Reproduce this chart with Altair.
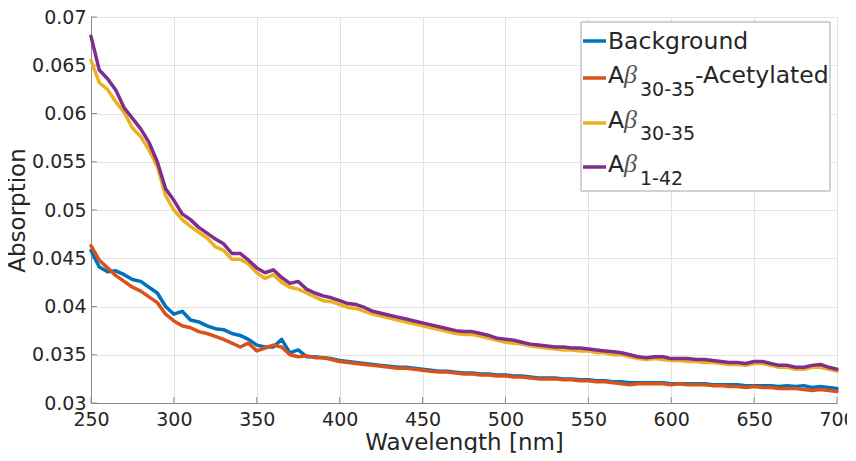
import altair as alt
import pandas as pd

wavelength = list(range(250, 701, 5))

background = [0.0458, 0.0441, 0.0436, 0.0437, 0.0433, 0.0428, 0.0426, 0.0420, 0.0414, 0.0400,
              0.0392, 0.0395, 0.0386, 0.0384, 0.0380, 0.0377, 0.0376, 0.0372, 0.0370, 0.0366,
              0.0360, 0.0358, 0.0358, 0.0366, 0.0352, 0.0355, 0.0348, 0.0348, 0.0347, 0.0346,
              0.0344, 0.0343, 0.0342, 0.0341, 0.0340, 0.0339, 0.0338, 0.0337, 0.0337, 0.0336,
              0.0335, 0.0334, 0.0333, 0.0333, 0.0332, 0.0331, 0.0331, 0.0330, 0.0330, 0.0329,
              0.0329, 0.0328, 0.0328, 0.0327, 0.0326, 0.0326, 0.0326, 0.0325, 0.0325, 0.0324,
              0.0324, 0.0323, 0.0323, 0.0322, 0.0322, 0.0321, 0.0321, 0.0321, 0.0321, 0.0321,
              0.0320, 0.0320, 0.0320, 0.0320, 0.0320, 0.0319, 0.0319, 0.0319, 0.0319, 0.0318,
              0.0318, 0.0318, 0.0318, 0.0317, 0.0318, 0.0317, 0.0318, 0.0316, 0.0317, 0.0316,
              0.0315]

acetylated = [0.0463, 0.0448, 0.0440, 0.0432, 0.0426, 0.0420, 0.0416, 0.0410, 0.0404, 0.0392,
              0.0385, 0.0380, 0.0378, 0.0374, 0.0372, 0.0369, 0.0366, 0.0362, 0.0358, 0.0362,
              0.0354, 0.0357, 0.0360, 0.0358, 0.0350, 0.0348, 0.0349, 0.0347, 0.0347, 0.0345,
              0.0343, 0.0342, 0.0341, 0.0340, 0.0339, 0.0338, 0.0337, 0.0336, 0.0336, 0.0335,
              0.0334, 0.0333, 0.0332, 0.0332, 0.0331, 0.0330, 0.0330, 0.0329, 0.0329, 0.0328,
              0.0328, 0.0327, 0.0327, 0.0326, 0.0325, 0.0325, 0.0325, 0.0324, 0.0324, 0.0323,
              0.0323, 0.0322, 0.0322, 0.0321, 0.0320, 0.0319, 0.0320, 0.0320, 0.0320, 0.0320,
              0.0319, 0.0320, 0.0319, 0.0319, 0.0319, 0.0318, 0.0318, 0.0317, 0.0317, 0.0316,
              0.0317, 0.0316, 0.0316, 0.0315, 0.0315, 0.0315, 0.0314, 0.0313, 0.0314, 0.0313,
              0.0312]

ab_30_35 = [0.0655, 0.0632, 0.0625, 0.0612, 0.0601, 0.0585, 0.0576, 0.0562, 0.0545, 0.0515,
            0.0500, 0.0490, 0.0483, 0.0477, 0.0471, 0.0462, 0.0458, 0.0449, 0.0449, 0.0444,
            0.0435, 0.0429, 0.0433, 0.0425, 0.0420, 0.0418, 0.0414, 0.0410, 0.0406, 0.0405,
            0.0402, 0.0399, 0.0398, 0.0395, 0.0392, 0.0390, 0.0388, 0.0386, 0.0384, 0.0382,
            0.0380, 0.0378, 0.0376, 0.0374, 0.0372, 0.0371, 0.0371, 0.0369, 0.0367, 0.0365,
            0.0363, 0.0362, 0.0361, 0.0359, 0.0358, 0.0357, 0.0356, 0.0355, 0.0355, 0.0354,
            0.0354, 0.0352, 0.0352, 0.0350, 0.0350, 0.0348, 0.0346, 0.0345, 0.0346, 0.0345,
            0.0344, 0.0344, 0.0343, 0.0343, 0.0342, 0.0342, 0.0341, 0.0340, 0.0340, 0.0339,
            0.0341, 0.0341, 0.0339, 0.0337, 0.0337, 0.0335, 0.0335, 0.0337, 0.0337, 0.0335,
            0.0333]

ab_1_42 = [0.0680, 0.0645, 0.0636, 0.0624, 0.0606, 0.0595, 0.0584, 0.0570, 0.0550, 0.0522,
           0.0510, 0.0496, 0.0490, 0.0482, 0.0476, 0.0470, 0.0465, 0.0455, 0.0455, 0.0448,
           0.0440, 0.0435, 0.0438, 0.0430, 0.0424, 0.0426, 0.0418, 0.0414, 0.0411, 0.0409,
           0.0406, 0.0403, 0.0402, 0.0399, 0.0395, 0.0393, 0.0391, 0.0389, 0.0387, 0.0385,
           0.0383, 0.0381, 0.0379, 0.0377, 0.0375, 0.0374, 0.0374, 0.0372, 0.0370, 0.0367,
           0.0366, 0.0365, 0.0363, 0.0361, 0.0360, 0.0359, 0.0358, 0.0358, 0.0357, 0.0357,
           0.0356, 0.0355, 0.0354, 0.0353, 0.0352, 0.0350, 0.0348, 0.0347, 0.0348, 0.0348,
           0.0346, 0.0346, 0.0346, 0.0345, 0.0345, 0.0344, 0.0343, 0.0342, 0.0342, 0.0341,
           0.0343, 0.0343, 0.0341, 0.0339, 0.0339, 0.0337, 0.0337, 0.0339, 0.0340, 0.0337,
           0.0335]

series_names = ["Background", "Aβ30-35-Acetylated", "Aβ30-35", "Aβ1-42"]
series_values = [background, acetylated, ab_30_35, ab_1_42]
colors = ["#0072BD", "#D95319", "#EDB120", "#7E2F8E"]

x_ticks = [250, 300, 350, 400, 450, 500, 550, 600, 650, 700]
y_ticks = [0.03, 0.035, 0.04, 0.045, 0.05, 0.055, 0.06, 0.065, 0.07]

rows = []
for name, vals in zip(series_names, series_values):
    for w, v in zip(wavelength, vals):
        rows.append({"wl": w, "abs": v, "series": name})
df = pd.DataFrame(rows)

TXT = "#262626"
FONT = "DejaVu Sans"

x_scale = alt.Scale(domain=[250, 700], nice=False, zero=False)
y_scale = alt.Scale(domain=[0.03, 0.07], nice=False, zero=False)
x_axis = alt.Axis(values=x_ticks, title="Wavelength [nm]", format="d")
y_axis = alt.Axis(values=y_ticks, title="Absorption", format=".3~f")

layers = []

# inward tick marks (MATLAB style)
xt = alt.Chart(pd.DataFrame({"wl": x_ticks})).mark_rule(color="#8c8c8c", strokeWidth=1).encode(
    x=alt.X("wl:Q", scale=x_scale, axis=x_axis),
    y=alt.value(386), y2=alt.value(380))
yt = alt.Chart(pd.DataFrame({"abs": y_ticks})).mark_rule(color="#8c8c8c", strokeWidth=1).encode(
    y=alt.Y("abs:Q", scale=y_scale, axis=y_axis),
    x=alt.value(0), x2=alt.value(6))
layers += [xt, yt]

for name, col in zip(series_names, colors):
    layers.append(
        alt.Chart(df).transform_filter(alt.datum.series == name)
        .mark_line(color=col, strokeWidth=3.5, strokeJoin="round", strokeCap="round")
        .encode(x=alt.X("wl:Q", scale=x_scale, axis=x_axis),
                y=alt.Y("abs:Q", scale=y_scale, axis=y_axis))
    )

one = alt.Data(values=[{}])

def txt(s, x, y, size, font=FONT, style="normal", color=TXT):
    return alt.Chart(one).mark_text(text=s, align="left", baseline="alphabetic", font=font,
                                    fontSize=size, fontStyle=style, color=color).encode(
        x=alt.value(x), y=alt.value(y))

# legend box
layers.append(alt.Chart(one).mark_rect(fill="white", stroke="#a6a6a6", strokeWidth=1).encode(
    x=alt.value(490), x2=alt.value(739), y=alt.value(5), y2=alt.value(174)))

swatch_y = [24, 61, 106, 150]
for col, yy in zip(colors, swatch_y):
    layers.append(alt.Chart(one).mark_rule(color=col, strokeWidth=3.5).encode(
        x=alt.value(492), x2=alt.value(515), y=alt.value(yy)))

LS = 23.5
SS = 19
layers.append(txt("Background", 517, 32, LS))
# entry 2
layers.append(txt("A", 517, 66, LS))
layers.append(txt("β", 533, 66, 26, font="Liberation Serif", style="italic", color="#555555"))
layers.append(txt("30-35", 549, 79, SS))
layers.append(txt("-Acetylated", 604, 66, LS))
# entry 3
layers.append(txt("A", 517, 111, LS))
layers.append(txt("β", 533, 111, 26, font="Liberation Serif", style="italic", color="#555555"))
layers.append(txt("30-35", 549, 123, SS))
# entry 4
layers.append(txt("A", 517, 155, LS))
layers.append(txt("β", 533, 155, 26, font="Liberation Serif", style="italic", color="#555555"))
layers.append(txt("1-42", 549, 168, SS))

chart = alt.layer(*layers).properties(
    width=746, height=386,
    autosize=alt.AutoSizeParams(type="none"),
    padding={"left": 83, "top": 9, "right": 10, "bottom": 50},
).configure_view(stroke=None).configure_axis(
    grid=True, gridColor="#e3e3e3", gridWidth=1,
    domainColor="#8c8c8c", domainWidth=1,
    ticks=False,
    labelFont=FONT, labelFontSize=19, labelColor=TXT,
    titleFont=FONT, titleFontSize=23, titleFontWeight="normal", titleColor=TXT,
).configure_axisX(labelPadding=7, titlePadding=2, labelFlush=False).configure_axisY(
    labelPadding=5, titlePadding=2, labelFlush=False)

chart.save("out.html", embed_options={"renderer": "svg", "actions": False})
